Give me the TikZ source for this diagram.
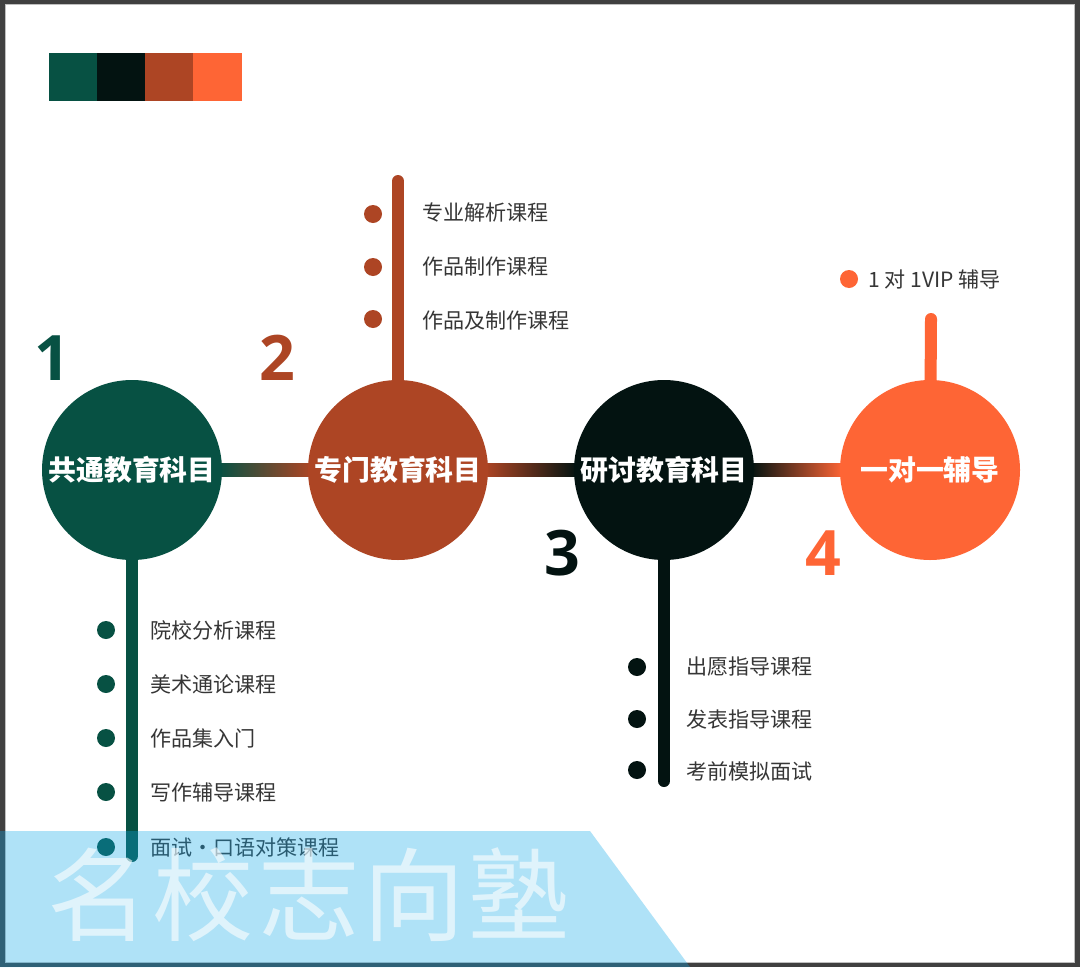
\documentclass[tikz,border=0pt]{standalone}
\usepackage{fontspec}
\newfontfamily\cjk{Noto Sans CJK SC}
\newfontfamily\numf{Open Sans}
\usetikzlibrary{calc}
\definecolor{cg}{HTML}{075143}
\definecolor{ck}{HTML}{031311}
\definecolor{cr}{HTML}{AD4524}
\definecolor{co}{HTML}{FE6535}
\definecolor{framec}{HTML}{404040}
\definecolor{txt}{HTML}{363636}
\definecolor{wm}{RGB}{15,167,233}
\pgfdeclarelayer{back}
\pgfdeclarelayer{bg}
\pgfdeclarelayer{front}
\pgfsetlayers{back,bg,main,front}
\begin{document}
\begin{tikzpicture}[x=0.75pt,y=-0.75pt,
  hub/.style={circle,minimum size=135pt,inner sep=0pt,text=white,
    font=\cjk\bfseries\fontsize{20.9}{24}\selectfont},
  stemline/.style={line width=9pt,line cap=round},
  bul/.style={circle,inner sep=0pt,minimum size=13.5pt},
  item/.style={anchor=west,text=txt,inner sep=0pt,font=\cjk\fontsize{15.8}{18}\selectfont},
  num/.style={anchor=base,inner sep=0pt,font=\numf\bfseries\fontsize{47}{50}\selectfont}
]
\useasboundingbox (0,0) rectangle (1080,967);
\begin{pgfonlayer}{back}
\fill[framec] (0,0) rectangle (1080,967);
\fill[white] (5,4) rectangle (1074,962);
\draw[gray!50,line width=0.5pt] (5,4) rectangle (1074,962);
% colour strip
\fill[cg] (49,53) rectangle (97,101);
\fill[ck] (97,53) rectangle (145,101);
\fill[cr] (145,53) rectangle (193,101);
\fill[co] (193,53) rectangle (242,101);
\end{pgfonlayer}

% hubs
\node[hub,fill=cg] (c1) at (132,470) {共通教育科目};
\node[hub,fill=cr] (c2) at (398,470) {专门教育科目};
\node[hub,fill=ck] (c3) at (664,470) {研讨教育科目};
\node[hub,fill=co] (c4) at (930,470) {一对一辅导};

% stem ends
\coordinate (e1) at (132,856);
\coordinate (e2) at (398,181);
\coordinate (e3) at (664,781);
\coordinate (e4) at (931,319);

\begin{pgfonlayer}{bg}
\shade[left color=cg,right color=cr] ($(c1.east)+(-3,-6.5)$) rectangle ($(c2.west)+(3,6.5)$);
\shade[left color=cr,right color=ck] ($(c2.east)+(-3,-6.5)$) rectangle ($(c3.west)+(3,6.5)$);
\shade[left color=ck,right color=co] ($(c3.east)+(-3,-6.5)$) rectangle ($(c4.west)+(3,6.5)$);
\draw[stemline,cg] (c1.center) -- (e1);
\draw[stemline,cr] (c2.center) -- (e2);
\draw[stemline,ck] (c3.center) -- (e3);
\draw[stemline,co] (c4.center) -- (e4);
\end{pgfonlayer}

% numbers
\node[num,text=cg] (n1) at (52,380) {1};
\node[num,text=cr] (n2) at (277,380) {2};
\node[num,text=ck] (n3) at (562,575) {3};
\node[num,text=co] (n4) at (823,575) {4};

% list 1
\node[bul,fill=cg] (d11) at (106,630) {};
\node[bul,fill=cg] (d12) at (106,684) {};
\node[bul,fill=cg] (d13) at (106,738) {};
\node[bul,fill=cg] (d14) at (106,792) {};
\node[bul,fill=cg] (d15) at (106,847) {};
\node[item] (t11) at (150,630) {院校分析课程};
\node[item] (t12) at (150,684) {美术通论课程};
\node[item] (t13) at (150,738) {作品集入门};
\node[item] (t14) at (150,792) {写作辅导课程};
\node[item] (t15) at (150,847) {面试・口语对策课程};

% list 2
\node[bul,fill=cr] (d21) at (373,214) {};
\node[bul,fill=cr] (d22) at (373,267) {};
\node[bul,fill=cr] (d23) at (373,319) {};
\node[item] (t21) at (422,213) {专业解析课程};
\node[item] (t22) at (422,267) {作品制作课程};
\node[item] (t23) at (422,321) {作品及制作课程};

% list 3
\node[bul,fill=ck] (d31) at (637,667) {};
\node[bul,fill=ck] (d32) at (637,719) {};
\node[bul,fill=ck] (d33) at (637,770) {};
\node[item] (t31) at (686,667) {出愿指导课程};
\node[item] (t32) at (686,719) {发表指导课程};
\node[item] (t33) at (686,771) {考前模拟面试};

% list 4
\node[bul,fill=co] (d41) at (849,279) {};
\node[item] (t41) at (868,279) {1 对 1VIP 辅导};

% watermark
\begin{pgfonlayer}{front}
\fill[wm,opacity=0.33] (0,831) -- (590,831) -- (690,967) -- (0,967) -- cycle;
\node[text=white,opacity=0.6,inner sep=0pt,font=\cjk\fontsize{76}{76}\selectfont] (wmt) at (309,895) {名\hspace{3pt}校\hspace{3pt}志\hspace{3pt}向\hspace{3pt}塾};
\end{pgfonlayer}
\end{tikzpicture}
\end{document}
